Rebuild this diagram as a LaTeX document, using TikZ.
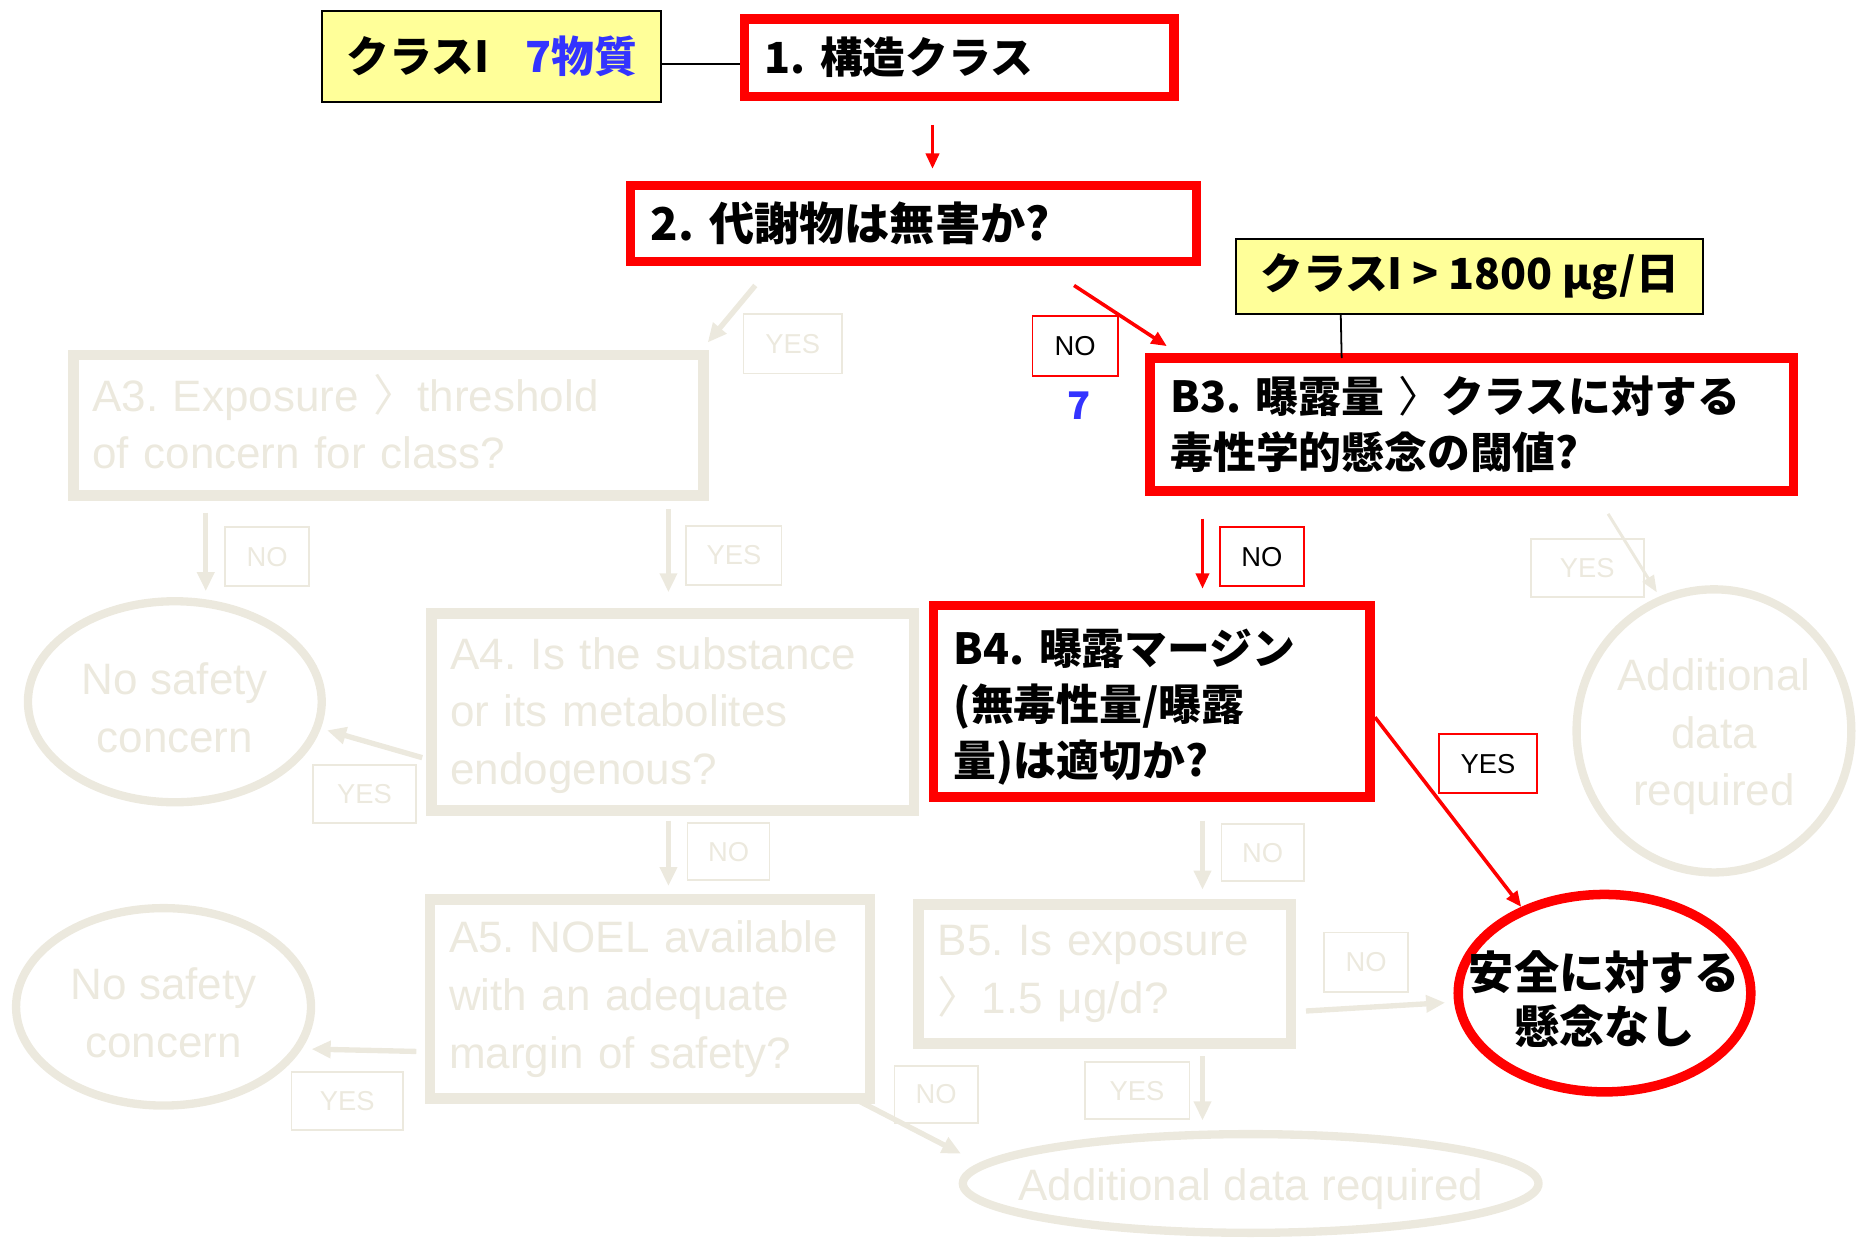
\documentclass[tikz,border=0pt]{standalone}
\usepackage{fontspec}
\setmainfont{Liberation Sans}
\newfontfamily\jp{Noto Sans CJK JP}
\usetikzlibrary{arrows.meta,shapes.geometric,calc}
\definecolor{faded}{RGB}{236,233,222}
\definecolor{hlyellow}{RGB}{255,255,153}
\definecolor{numblue}{RGB}{51,51,255}
\newcommand\zwc[2]{\makebox[0pt]{\parbox{#1}{\centering\vspace*{10pt}#2}}}
\frenchspacing
\begin{document}
\frenchspacing
\begin{tikzpicture}[x=1pt,y=-1pt,
  rbox/.style={draw=red, line width=8pt, rectangle, inner xsep=17pt, inner ysep=0pt, align=left,
    font=\jp\bfseries\fontsize{36}{47}\selectfont},
  gbox/.style={draw=faded, line width=9pt, rectangle, text=faded, inner xsep=16pt, inner ysep=0pt, align=left,
    font=\fontsize{37}{48.5}\selectfont},
  lbl/.style={draw=red, line width=1.5pt, inner sep=0pt, font=\fontsize{23}{23}\selectfont},
  glbl/.style={lbl, draw=faded, text=faded},
  ybox/.style={draw=black, line width=1.5pt, fill=hlyellow, inner sep=0pt},
  gell/.style={ellipse, draw=faded, line width=7pt, inner sep=0pt, text=faded, font=\fontsize{37}{48.5}\selectfont},
  redarr/.style={draw=red, line width=3pt, -{Triangle[length=13pt,width=11pt]}},
  grayarr/.style={draw=faded, line width=4.5pt, -{Triangle[length=16pt,width=14pt]}},
  thinline/.style={draw=black, line width=1.5pt}]
\useasboundingbox (0,0) rectangle (1568,1043);

% ---------- faded (gray) part ----------
\node[gbox, minimum height=118pt, text width=498pt] (A3) at (326.5,357.5)
  {\parbox{498pt}{A3. Exposure {\jp 〉}threshold\\of concern for class?\par\vspace*{6pt}}};
\node[gbox, minimum height=166pt, text width=374pt] (A4) at (565.5,598.5)
  {\parbox{374pt}{\vspace*{6pt}A4. Is the substance\\or its metabolites\\endogenous?}};
\node[gbox, minimum height=167pt, text width=338pt] (A5) at (546.5,840)
  {A5. NOEL available\\with an adequate\\margin of safety?};
\node[gbox, minimum height=117pt, text width=281pt] (B5) at (929,819)
  {B5. Is exposure\\{\jp 〉}1.5 μg/d?};

\node[gell, minimum width=247pt, minimum height=169pt] (NSC1) at (147,590)
  {\zwc{300pt}{No safety\\concern}};
\node[gell, minimum width=248pt, minimum height=166pt] (NSC2) at (137.5,846.5)
  {\zwc{300pt}{No safety\\concern}};
\node[gell, minimum width=231pt, minimum height=238pt] (ADR1) at (1441,614.5)
  {\zwc{300pt}{Additional\\data\\required}};
\node[gell, minimum width=484pt, minimum height=83pt] (ADR2) at (1051.5,995)
  {\zwc{500pt}{Additional data required}};

\node[glbl, minimum width=83pt, minimum height=50pt] (yA3) at (666.5,289) {YES};
\node[glbl, minimum width=71pt, minimum height=50pt] (nA3) at (224.5,468) {NO};
\node[glbl, minimum width=80pt, minimum height=50pt] (yA4) at (617,467) {YES};
\node[glbl, minimum width=95pt, minimum height=49pt] (yB3) at (1334.5,477.5) {YES};
\node[glbl, minimum width=87pt, minimum height=49pt] (yA4l) at (306.5,667.5) {YES};
\node[glbl, minimum width=69pt, minimum height=48pt] (nA4) at (612.5,716) {NO};
\node[glbl, minimum width=69pt, minimum height=48pt] (nB4) at (1061.5,717) {NO};
\node[glbl, minimum width=71pt, minimum height=50pt] (nB5) at (1148.5,809) {NO};
\node[glbl, minimum width=94pt, minimum height=49pt] (yA5) at (292,925.5) {YES};
\node[glbl, minimum width=70pt, minimum height=48pt] (nA5) at (787,920) {NO};
\node[glbl, minimum width=88pt, minimum height=48pt] (yB5) at (956,917) {YES};

% ---------- highlighted part ----------
\node[ybox, minimum width=285pt, minimum height=77pt, font=\jp\bfseries\fontsize{36}{40}\selectfont] (Y1) at (413.5,47.5)
  {クラスI\hspace{30pt}{\color{numblue}7物質}};
\node[ybox, minimum width=393pt, minimum height=63pt, font=\jp\bfseries\fontsize{36}{40}\selectfont] (Y2) at (1235.5,232.5)
  {クラスI > 1800 μg/日};

\node[rbox, minimum height=65pt, text width=327pt] (R1) at (806.5,48.5) {1. 構造クラス};
\node[rbox, minimum height=64pt, text width=442pt, font=\jp\bfseries\fontsize{38}{47}\selectfont] (R2) at (768,188) {2. 代謝物は無害か?};
\node[rbox, minimum height=112pt, text width=507pt] (B3) at (1237.5,357)
  {B3. 曝露量 {\mdseries 〉}クラスに対する\\毒性学的懸念の閾値?};
\node[rbox, minimum height=161pt, text width=333pt] (B4) at (968.5,589.5)
  {\parbox{333pt}{\vspace*{10pt}B4. 曝露マージン\\(無毒性量/曝露\\量)は適切か?}};

\node[ellipse, draw=red, line width=8pt, inner sep=0pt, minimum width=246pt, minimum height=166pt,
  font=\jp\bfseries\fontsize{38}{46}\selectfont] (Safe) at (1349,835)
  {\zwc{300pt}{安全に対する\\懸念なし}};

\node[lbl, minimum width=72pt, minimum height=50pt] (nR2) at (904,291) {NO};
\node[lbl, minimum width=70pt, minimum height=50pt] (nB3) at (1061,468) {NO};
\node[lbl, minimum width=82pt, minimum height=50pt] (yB4) at (1251,642) {YES};
\node[text=numblue, font=\jp\bfseries\fontsize{32}{32}\selectfont] (seven) at (907,341) {7};

% ---------- connectors ----------
\draw[grayarr] ($(R2.south west)+(109,16)$) -- ($(A3.north east)+(-1,-6)$);
\draw[grayarr] ($(A3.south west)+(116,10)$) -- ($(NSC1.north)+(26,-5)$);
\draw[grayarr] ($(A3.south east)+(-34,7)$) -- ($(A4.north)+(-3.5,-13)$);
\draw[draw=faded, line width=2.5pt, -{Triangle[length=14pt,width=11pt]}] ($(B3.south east)+(-160,15)$) -- ($(ADR1.north)+(-48,6)$);
\draw[grayarr] ($(A4.west)+(-3,38.5)$) -- ($(NSC1.east)+(1,24)$);
\draw[grayarr] ($(A4.south)+(-3.5,4)$) -- ($(A5.north)+(15.5,-7)$);
\draw[grayarr] ($(B4.south)+(42.5,16)$) -- ($(B5.north)+(82,-8)$);
\draw[grayarr] ($(B5.east)+(8,31)$) -- ($(Safe.west)+(-7,8)$);
\draw[grayarr] ($(A5.west)+(-7,44)$) -- ($(NSC2.east)+(-3,35.5)$);
\draw[grayarr] ($(A5.south east)+(-21,-6)$) -- ($(ADR2.west)+(2,-25)$);
\draw[grayarr] ($(B5.south)+(82,6)$) -- ($(ADR2.north)+(-40.5,-8)$);

\draw[thinline] ([yshift=-6pt]Y1.east) -- ([yshift=-6pt]Y1.east -| R1.west);
\draw[thinline] ($(Y2.south west)+(89,0)$) -- ($(B3.north west)+(165,4)$);

\draw[redarr] ($(R1.south)+(-22.5,20)$) -- ($(R2.north)+(16,-10)$);
\draw[redarr] ($(R2.south)+(135,16)$) -- ($(B3.north west)+(18,-6)$);
\draw[redarr] ($(B3.south west)+(48,19)$) -- ($(B4.north)+(42.5,-10)$);
\draw[redarr] ($(B4.east)+(0,13.5)$) -- (Safe.134);
\end{tikzpicture}
\end{document}
